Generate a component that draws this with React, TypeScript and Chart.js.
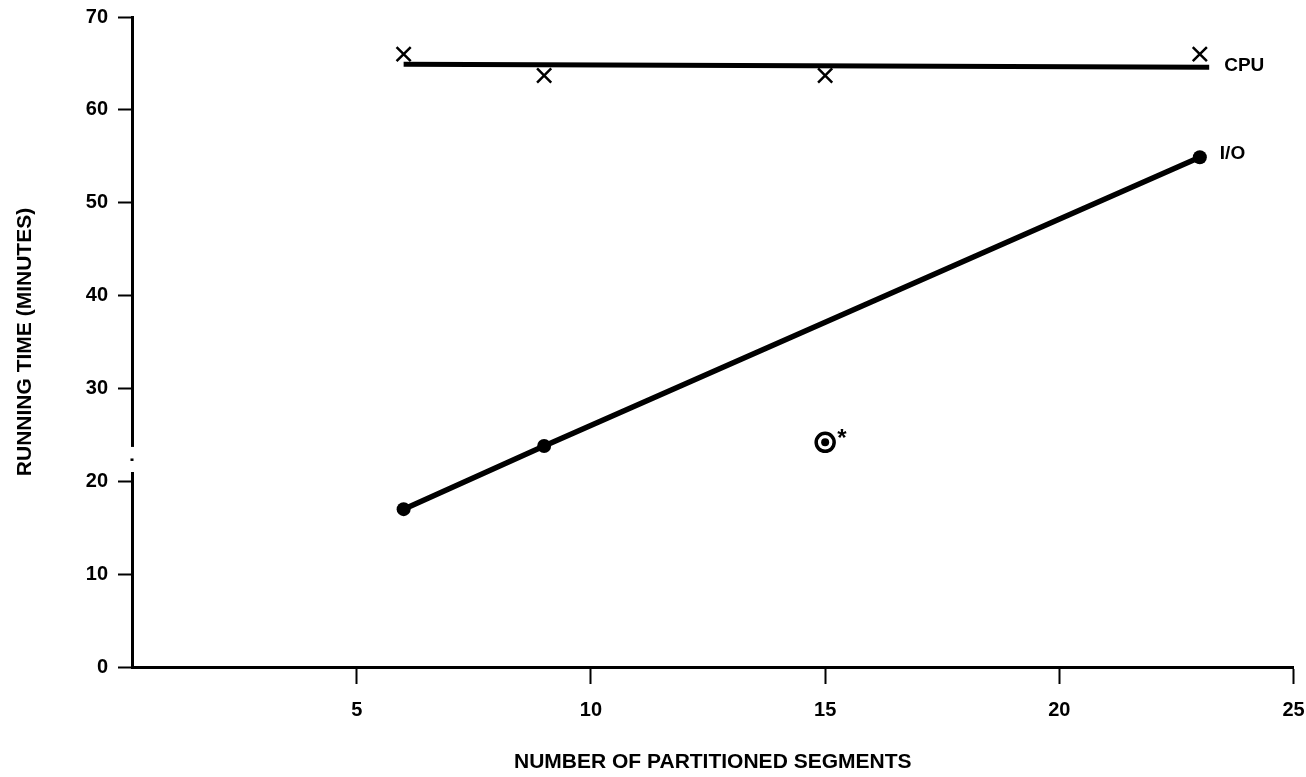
import { useEffect, useRef } from "react";
import { Chart, registerables } from "chart.js";
Chart.register(...registerables);

const X_TICKS = [5, 10, 15, 20, 25];
const Y_TICKS = [0, 10, 20, 30, 40, 50, 60, 70];
const CPU_X = [6, 9, 15, 23];
const CPU_Y = [66, 63.7, 63.7, 66];
const CPU_FIT_X = [6, 23.2];
const CPU_FIT_Y = [64.9, 64.6];
const IO_X = [6, 9, 23];
const IO_Y = [17, 23.8, 54.9];
const SPECIAL_X = [15];
const SPECIAL_Y = [24.2];
const Y_BREAK = [21.0, 23.7];
const X_TITLE = "NUMBER OF PARTITIONED SEGMENTS";
const Y_TITLE = "RUNNING TIME (MINUTES)";
const CPU_LABEL = "CPU";
const IO_LABEL = "I/O";
const SPECIAL_MARK = "*";

const FONT = '"Liberation Sans", Arial, Helvetica, sans-serif';

const toPts = (xs: number[], ys: number[]) => xs.map((x, i) => ({ x, y: ys[i] }));

const decor = {
  id: "decor",
  beforeDraw(chart: any) {
    const ctx = chart.ctx;
    ctx.save();
    ctx.fillStyle = "#ffffff";
    ctx.fillRect(0, 0, chart.width, chart.height);
    ctx.restore();
  },
  afterDraw(chart: any) {
    const ctx = chart.ctx;
    const xs = chart.scales.x;
    const ys = chart.scales.y;
    ctx.save();
    // axis break
    const ax = chart.chartArea.left;
    const yTop = ys.getPixelForValue(Y_BREAK[1]);
    const yBot = ys.getPixelForValue(Y_BREAK[0]);
    ctx.fillStyle = "#ffffff";
    ctx.fillRect(ax - 5, yTop, 10, yBot - yTop);
    ctx.fillStyle = "#000000";
    ctx.fillRect(ax - 1.5, (yTop + yBot) / 2 - 1, 3, 2.5);
    // labels
    ctx.fillStyle = "#000000";
    ctx.font = `bold 19px ${FONT}`;
    ctx.textBaseline = "middle";
    ctx.textAlign = "left";
    ctx.fillText(
      CPU_LABEL,
      xs.getPixelForValue(CPU_FIT_X[CPU_FIT_X.length - 1]) + 15,
      ys.getPixelForValue(CPU_FIT_Y[CPU_FIT_Y.length - 1]) - 1
    );
    ctx.fillText(
      IO_LABEL,
      xs.getPixelForValue(IO_X[IO_X.length - 1]) + 20,
      ys.getPixelForValue(IO_Y[IO_Y.length - 1]) - 3
    );
    ctx.font = `bold 24px ${FONT}`;
    ctx.fillText(
      SPECIAL_MARK,
      xs.getPixelForValue(SPECIAL_X[0]) + 12,
      ys.getPixelForValue(SPECIAL_Y[0]) - 3
    );
    ctx.restore();
  },
};

export default function App() {
  const ref = useRef<HTMLCanvasElement | null>(null);
  useEffect(() => {
    if (!ref.current) return;
    const chart = new Chart(ref.current, {
      type: "scatter",
      data: {
        datasets: [
          {
            label: "CPU fit",
            data: toPts(CPU_FIT_X, CPU_FIT_Y),
            showLine: true,
            borderColor: "#000",
            borderWidth: 5,
            pointRadius: 0,
          },
          {
            label: "CPU",
            data: toPts(CPU_X, CPU_Y),
            showLine: false,
            pointStyle: "crossRot",
            pointRadius: 10,
            borderColor: "#000",
            borderWidth: 2.5,
          },
          {
            label: "I/O",
            data: toPts(IO_X, IO_Y),
            showLine: true,
            borderColor: "#000",
            borderWidth: 5.5,
            pointRadius: 7,
            pointBackgroundColor: "#000",
            pointBorderColor: "#000",
            pointBorderWidth: 0,
          },
          {
            label: "special dot",
            data: toPts(SPECIAL_X, SPECIAL_Y),
            showLine: false,
            pointRadius: 4,
            pointBackgroundColor: "#000",
            pointBorderColor: "#000",
            pointBorderWidth: 0,
          },
          {
            label: "special ring",
            data: toPts(SPECIAL_X, SPECIAL_Y),
            showLine: false,
            pointRadius: 9,
            pointBackgroundColor: "rgba(255,255,255,0)",
            pointBorderColor: "#000",
            pointBorderWidth: 3.5,
          },
        ],
      },
      options: {
        animation: false,
        responsive: false,
        layout: { padding: { left: 0, right: 11, top: 17, bottom: 0 } },
        plugins: { legend: { display: false }, tooltip: { enabled: false } },
        elements: { line: { tension: 0 } },
        scales: {
          x: {
            type: "linear",
            min: 0.2,
            max: 25,
            afterBuildTicks: (s: any) => {
              s.ticks = X_TICKS.map((v) => ({ value: v }));
            },
            afterFit: (s: any) => {
              s.height = 110;
              s.paddingLeft = 0;
              s.paddingRight = 0;
            },
            grid: {
              drawOnChartArea: false,
              drawTicks: true,
              tickLength: 17,
              tickColor: "#000",
              tickWidth: 2,
              color: "#000",
            },
            border: { display: true, color: "#000", width: 3 },
            ticks: {
              color: "#000",
              padding: 14,
              maxRotation: 0,
              font: { family: FONT, size: 20, weight: "bold" },
            },
            title: {
              display: true,
              text: X_TITLE,
              color: "#000",
              padding: { top: 4, bottom: 2 },
              font: { family: FONT, size: 21, weight: "bold" },
            },
          },
          y: {
            type: "linear",
            min: 0,
            max: 70,
            afterBuildTicks: (s: any) => {
              s.ticks = Y_TICKS.map((v) => ({ value: v }));
            },
            afterFit: (s: any) => {
              s.width = 132;
              s.paddingTop = 0;
              s.paddingBottom = 0;
            },
            grid: {
              drawOnChartArea: false,
              drawTicks: true,
              tickLength: 14,
              tickColor: "#000",
              tickWidth: 2,
              color: "#000",
            },
            border: { display: true, color: "#000", width: 3 },
            ticks: {
              color: "#000",
              padding: 10,
              font: { family: FONT, size: 20, weight: "bold" },
            },
            title: {
              display: true,
              text: Y_TITLE,
              color: "#000",
              padding: { top: 13, bottom: 4 },
              font: { family: FONT, size: 21, weight: "bold" },
            },
          },
        },
      },
      plugins: [decor],
    } as any);
    return () => chart.destroy();
  }, []);
  return (
    <div style={{ position: "fixed", left: 0, top: 0, width: 1306, height: 777, background: "#fff" }}>
      <canvas ref={ref} width={1306} height={777} style={{ display: "block" }} />
    </div>
  );
}
